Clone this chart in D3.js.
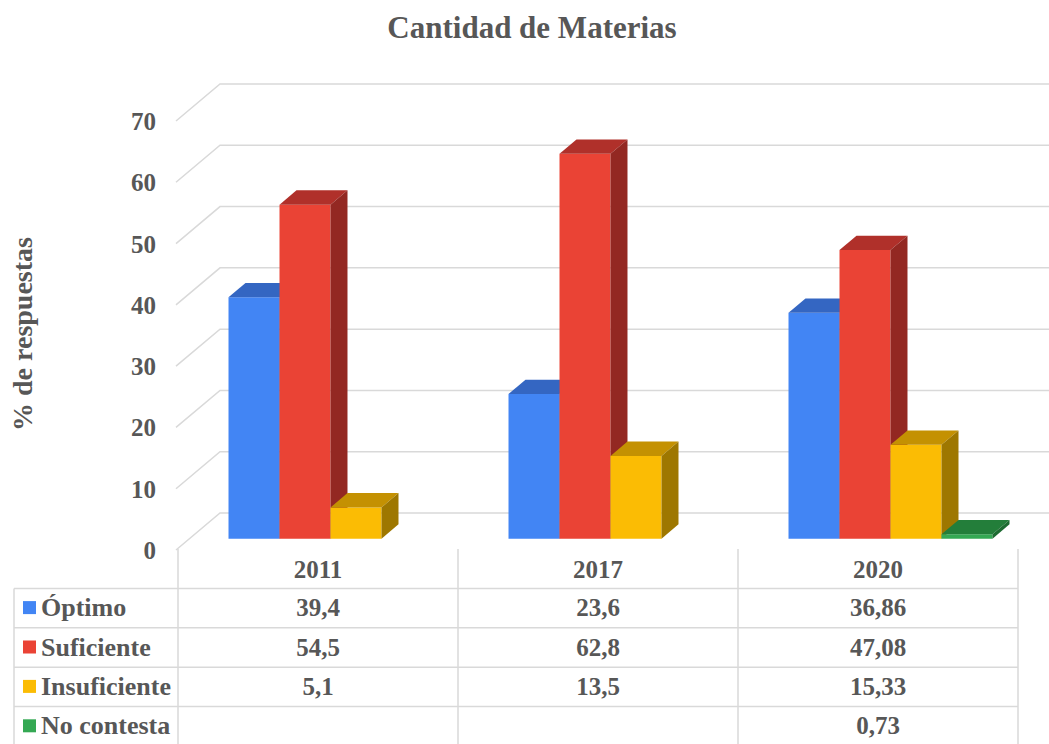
<!DOCTYPE html>
<html>
<head>
<meta charset="utf-8">
<script src="https://cdn.jsdelivr.net/npm/d3@7"></script>
<style>
  html, body { margin: 0; padding: 0; background: #ffffff; }
  svg { display: block; }
</style>
</head>
<body>
<svg id="chart" width="1049" height="744" font-family="'Liberation Serif', 'Times New Roman', Times, 'DejaVu Serif', serif" font-weight="bold"></svg>
<script>
// Chart data
const years = ["2011", "2017", "2020"];
const seriesNames = ["Óptimo", "Suficiente", "Insuficiente", "No contesta"];
const optimo = [39.4, 23.6, 36.86];
const suficiente = [54.5, 62.8, 47.08];
const insuficiente = [5.1, 13.5, 15.33];
const noContesta = [null, null, 0.73];
const yTicks = [0, 10, 20, 30, 40, 50, 60, 70];

const seriesValues = [optimo, suficiente, insuficiente, noContesta];

// Face colours: front, top, side
const palette = [
  { front: "#4285F4", top: "#3466C2", side: "#2C58A8" },
  { front: "#EA4335", top: "#B0302A", side: "#932822" },
  { front: "#FBBC04", top: "#C49102", side: "#9E7700" },
  { front: "#34A853", top: "#237E3A", side: "#1D6B31" }
];
const textColor = "#575757";

const svg = d3.select("#chart");

// Front plane of the plot and the 3D depth vector
const x = d3.scaleBand().domain(years).range([177, 1017]).padding(0);
const y = d3.scaleLinear().domain([0, 70]).range([550, 121]);
const depth = { dx: 44, dy: -37 };
const barFront = 0.307;   // fraction of depth where bar fronts sit
const barDepth = 0.386;   // fraction of depth occupied by each bar
const xs = d3.scaleBand().domain(seriesNames).range([0, x.bandwidth()])
  .paddingInner(0).paddingOuter(0.745);

// Title
svg.append("text")
  .attr("x", 532).attr("y", 38)
  .attr("text-anchor", "middle")
  .attr("fill", textColor)
  .attr("font-size", 31)
  .text("Cantidad de Materias");

// Axis title
svg.append("text")
  .attr("transform", "translate(32,334) rotate(-90)")
  .attr("text-anchor", "middle")
  .attr("fill", textColor)
  .attr("font-size", 28)
  .text("% de respuestas");

// Gridlines: diagonal on the side wall, horizontal on the back wall
const grid = svg.append("g").attr("stroke", "#d9d9d9").attr("stroke-width", 1.5).attr("fill", "none");
yTicks.forEach(t => {
  const yf = y(t);
  grid.append("path")
    .attr("d", `M${x.range()[0] - 1},${yf} L${x.range()[0] - 1 + depth.dx},${yf + depth.dy} L1049,${yf + depth.dy}`);
});

// Tick labels
svg.append("g").selectAll("text")
  .data(yTicks).join("text")
  .attr("x", 156).attr("y", d => y(d) + 9)
  .attr("text-anchor", "end")
  .attr("fill", textColor)
  .attr("font-size", 25)
  .text(d => d);

// Bars (drawn left to right so each front covers the previous side face)
const bars = svg.append("g");
const fx = depth.dx * barFront, fy = depth.dy * barFront;
const bx = depth.dx * barDepth, by = depth.dy * barDepth;
years.forEach((yr, i) => {
  seriesNames.forEach((s, j) => {
    const v = seriesValues[j][i];
    if (v == null) return;
    const x0 = x(yr) + xs(s) + fx;
    const x1 = x0 + xs.bandwidth();
    const yb = y(0) + fy;
    const yt = y(v) + fy;
    const c = palette[j];
    const g = bars.append("g");
    g.append("path").attr("fill", c.front)
      .attr("d", `M${x0},${yb} L${x1},${yb} L${x1},${yt} L${x0},${yt} Z`);
    g.append("path").attr("fill", c.top)
      .attr("d", `M${x0},${yt} L${x1},${yt} L${x1 + bx},${yt + by} L${x0 + bx},${yt + by} Z`);
    g.append("path").attr("fill", c.side)
      .attr("d", `M${x1},${yb} L${x1 + bx},${yb + by} L${x1 + bx},${yt + by} L${x1},${yt} Z`);
  });
});

// Data table under the plot
const rowY = d3.scaleBand().domain(["head"].concat(seriesNames)).range([549, 746]);
const tableLeft = 14;
const colRight = x.range()[1] + 1;
const tbl = svg.append("g").attr("stroke", "#d9d9d9").attr("stroke-width", 1.5).attr("fill", "none");
// vertical lines of the year columns
years.concat(["end"]).forEach((yr, i) => {
  const xv = i < years.length ? x(yr) + 1 : colRight;
  tbl.append("line").attr("x1", xv).attr("x2", xv).attr("y1", rowY("head")).attr("y2", 746);
});
// left border of the legend column
tbl.append("line").attr("x1", tableLeft).attr("x2", tableLeft).attr("y1", rowY(seriesNames[0])).attr("y2", 746);
// horizontal row lines
seriesNames.forEach(s => {
  tbl.append("line").attr("x1", tableLeft).attr("x2", colRight)
    .attr("y1", rowY(s)).attr("y2", rowY(s));
});
tbl.append("line").attr("x1", tableLeft).attr("x2", colRight).attr("y1", 746).attr("y2", 746);

// header years
svg.append("g").selectAll("text").data(years).join("text")
  .attr("x", d => x(d) + x.bandwidth() / 2 + 1)
  .attr("y", rowY("head") + rowY.bandwidth() / 2 + 9)
  .attr("text-anchor", "middle")
  .attr("fill", textColor)
  .attr("font-size", 25)
  .text(d => d);

const fmt = v => String(v).replace(".", ",");
seriesNames.forEach((s, j) => {
  const cy = rowY(s) + rowY.bandwidth() / 2;
  svg.append("rect").attr("x", 23).attr("y", cy - 7).attr("width", 13).attr("height", 13)
    .attr("fill", palette[j].front);
  svg.append("text").attr("x", 41).attr("y", cy + 8)
    .attr("fill", textColor)
    .attr("font-size", 26).text(s);
  years.forEach((yr, i) => {
    const v = seriesValues[j][i];
    if (v == null) return;
    svg.append("text")
      .attr("x", x(yr) + x.bandwidth() / 2 + 1)
      .attr("y", cy + 8)
      .attr("text-anchor", "middle")
      .attr("fill", textColor)
      .attr("font-size", 25)
      .text(fmt(v));
  });
});
</script>
</body>
</html>
